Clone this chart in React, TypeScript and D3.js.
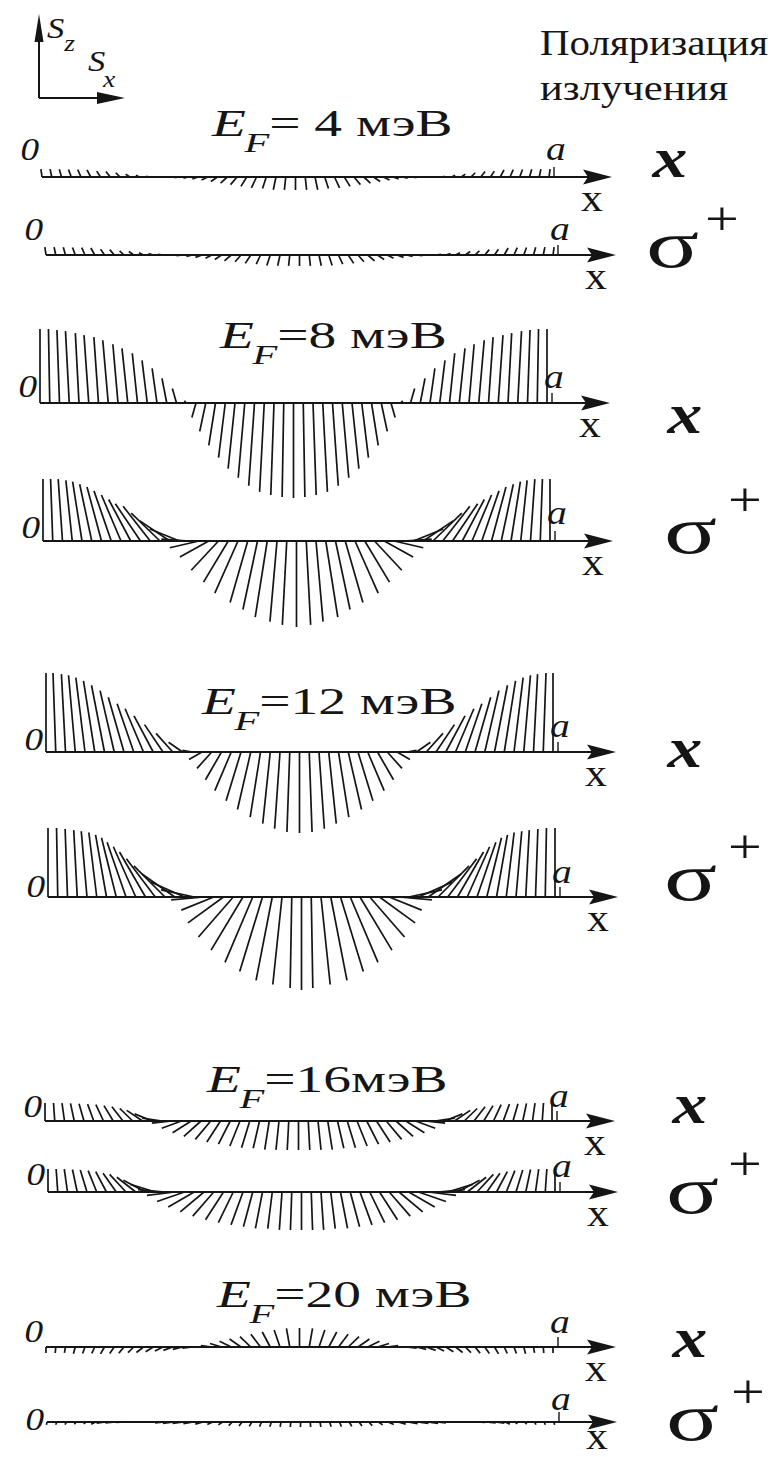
import React from "react";
import * as d3 from "d3";

const WIDTH = 771;
const HEIGHT = 1457;
const INK = "#151515";
const SERIF = "Liberation Serif";

// Spin vectors sampled at equal steps across the well, from x = 0 to x = a.
// Angle: degrees measured from +S_z, positive values lean toward -S_x.
// Length: spin magnitude, 100 = full length unit.
const ef4xAngle = [8, 12, 16, 20, 24, 28, 33, 38, 45, 55, 65, 75, 85, 92, 98, 104, 110, 116, 124, 132, 140, 148, 155, 162, 168, 174, 180, -174, -168, -162, -155, -148, -140, -132, -124, -116, -110, -104, -98, -92, -85, -75, -65, -55, -45, -38, -33, -28, -24, -20, -16, -12, -8];
const ef4xLength = [8, 8, 8, 8, 8, 8, 7, 7, 6, 5, 4, 3, 3, 3, 4, 5, 6, 7, 8, 9, 10, 11, 12, 12, 13, 13, 13, 13, 13, 12, 12, 11, 10, 9, 8, 7, 6, 5, 4, 3, 3, 3, 4, 5, 6, 7, 7, 8, 8, 8, 8, 8, 8];

const ef4sAngle = [8, 12, 16, 20, 24, 29, 34, 40, 47, 55, 64, 73, 82, 90, 97, 104, 110, 117, 124, 131, 139, 147, 155, 162, 168, 174, 180, -174, -168, -162, -155, -147, -139, -131, -124, -117, -110, -104, -97, -90, -82, -73, -64, -55, -47, -40, -34, -29, -24, -20, -16, -12, -8];
const ef4sLength = [8, 8, 8, 8, 8, 8, 7, 7, 6, 6, 5, 5, 5, 5, 6, 6, 7, 7, 8, 9, 9, 10, 10, 11, 11, 11, 11, 11, 11, 11, 10, 10, 9, 9, 8, 7, 7, 6, 6, 5, 5, 5, 5, 6, 6, 7, 7, 8, 8, 8, 8, 8, 8];

const ef8xAngle = [0, 1, 2, 3, 3, 4, 4, 5, 5, 6, 6, 7, 8, 11, 16, 40, 164, 168, 171, 173, 174, 175, 176, 177, 178, 179, 180, -179, -178, -177, -176, -175, -174, -173, -171, -168, -164, -40, -16, -11, -8, -7, -6, -6, -5, -5, -4, -4, -3, -3, -2, -1, 0];
const ef8xLength = [74, 74, 73, 72, 70, 68, 66, 63, 59, 55, 50, 43, 35, 25, 15, 3, 15, 29, 43, 55, 66, 75, 83, 89, 92, 94, 95, 94, 92, 89, 83, 75, 66, 55, 43, 29, 15, 3, 15, 25, 35, 43, 50, 55, 59, 63, 66, 68, 70, 72, 73, 74, 74];

const ef8sAngle = [0, 2, 4, 6, 9, 12, 15, 19, 23, 28, 34, 38, 46, 56, 68, 86, 103, 119, 137, 149, 156, 164, 168, 171, 175, 177, 180, -177, -175, -171, -168, -164, -156, -149, -137, -119, -103, -86, -68, -56, -46, -38, -34, -28, -23, -19, -15, -12, -9, -6, -4, -2, 0];
const ef8sLength = [62, 62, 62, 61, 60, 58, 56, 53, 50, 47, 45, 44, 40, 36, 32, 28, 30, 33, 40, 48, 57, 64, 70, 77, 81, 84, 86, 84, 81, 77, 70, 64, 57, 48, 40, 33, 30, 28, 32, 36, 40, 44, 45, 47, 50, 53, 56, 58, 60, 61, 62, 62, 62];

const ef12xAngle = [0, 2, 3, 5, 7, 9, 11, 13, 16, 19, 23, 28, 34, 42, 55, 80, 120, 138, 150, 157, 163, 167, 171, 174, 176, 178, 180, -178, -176, -174, -171, -167, -163, -157, -150, -138, -120, -80, -55, -42, -34, -28, -23, -19, -16, -13, -11, -9, -7, -5, -3, -2, 0];
const ef12xLength = [79, 79, 78, 77, 75, 72, 68, 63, 57, 51, 47, 41, 33, 25, 17, 10, 15, 22, 32, 42, 51, 59, 66, 72, 77, 80, 81, 80, 77, 72, 66, 59, 51, 42, 32, 22, 15, 10, 17, 25, 33, 41, 47, 51, 57, 63, 68, 72, 75, 77, 78, 79, 79];

const ef12sAngle = [0, 1, 2, 3, 5, 7, 10, 14, 19, 24, 30, 37, 45, 55, 66, 78, 95, 112, 126, 139, 149, 157, 163, 169, 174, 179, 180, -179, -174, -169, -163, -157, -149, -139, -126, -112, -95, -78, -66, -55, -45, -37, -30, -24, -19, -14, -10, -7, -5, -3, -2, -1, 0];
const ef12sLength = [69, 69, 68, 67, 66, 65, 63, 61, 58, 55, 52, 48, 44, 40, 37, 34, 33, 35, 44, 53, 62, 71, 78, 85, 88, 91, 93, 91, 88, 85, 78, 71, 62, 53, 44, 35, 33, 34, 37, 40, 44, 48, 52, 55, 58, 61, 63, 65, 66, 67, 68, 69, 69];

const ef16xAngle = [0, 4, 8, 12, 16, 20, 25, 31, 38, 46, 56, 68, 82, 96, 110, 122, 132, 140, 147, 153, 158, 163, 167, 171, 174, 177, 180, -177, -174, -171, -167, -163, -158, -153, -147, -140, -132, -122, -110, -96, -82, -68, -56, -46, -38, -31, -25, -20, -16, -12, -8, -4, 0];
const ef16xLength = [18, 18, 18, 18, 18, 18, 18, 18, 18, 18, 19, 19, 20, 20, 21, 22, 23, 24, 25, 26, 27, 28, 28, 29, 29, 29, 29, 29, 29, 29, 28, 28, 27, 26, 25, 24, 23, 22, 21, 20, 20, 19, 19, 18, 18, 18, 18, 18, 18, 18, 18, 18, 18];

const ef16sAngle = [0, 4, 8, 12, 17, 22, 28, 35, 43, 52, 62, 73, 85, 97, 109, 120, 130, 139, 147, 154, 160, 165, 169, 173, 176, 178, 180, -178, -176, -173, -169, -165, -160, -154, -147, -139, -130, -120, -109, -97, -85, -73, -62, -52, -43, -35, -28, -22, -17, -12, -8, -4, 0];
const ef16sLength = [23, 23, 23, 23, 23, 23, 23, 23, 24, 24, 25, 26, 27, 28, 29, 30, 31, 32, 33, 34, 35, 36, 37, 37, 38, 38, 38, 38, 38, 37, 37, 36, 35, 34, 33, 32, 31, 30, 29, 28, 27, 26, 25, 24, 24, 23, 23, 23, 23, 23, 23, 23, 23];

const ef20xAngle = [180, 175, 170, 165, 160, 155, 150, 145, 140, 134, 128, 122, 116, 110, 104, 97, 90, 82, 73, 64, 55, 46, 37, 28, 19, 10, 0, -10, -19, -28, -37, -46, -55, -64, -73, -82, -90, -97, -104, -110, -116, -122, -128, -134, -140, -145, -150, -155, -160, -165, -170, -175, -180];
const ef20xLength = [6, 6, 6, 7, 7, 7, 8, 8, 8, 8, 9, 9, 9, 10, 10, 10, 10, 11, 12, 13, 14, 15, 16, 17, 18, 19, 19, 19, 18, 17, 16, 15, 14, 13, 12, 11, 10, 10, 10, 10, 9, 9, 9, 8, 8, 8, 8, 7, 7, 7, 6, 6, 6];

const ef20sAngle = [170, 160, 150, 140, 130, 115, 97, 95, 93, 88, 90, 92, 96, 97, 98, 100, 105, 115, 125, 135, 143, 150, 157, 164, 170, 175, 180, -175, -170, -164, -157, -150, -143, -135, -125, -115, -105, -100, -98, -97, -96, -92, -90, -88, -93, -95, -97, -115, -130, -140, -150, -160, -170];
const ef20sLength = [3, 3, 3, 3, 3, 5, 9, 10, 9, 2, 1, 1, 9, 11, 11, 10, 8, 6, 5, 5, 5, 5, 5, 5, 5, 5, 5, 5, 5, 5, 5, 5, 5, 5, 5, 6, 8, 10, 11, 11, 9, 1, 1, 2, 9, 10, 9, 5, 3, 3, 3, 3, 3];

// Title of each Fermi-energy block (meV)
const fermiTitles = ["= 4 мэВ", "=8 мэВ", "=12 мэВ", "=16мэВ", "=20 мэВ"];

type Row = {
  pol: "x" | "s";
  angle: number[];
  length: number[];
  axisY: number;
  x0: number;
  zeroY: number;
  aY: number;
  tagX: number;
  tagY: number;
  plusX?: number;
  plusY?: number;
  labelDy?: number;
};

const rows: Row[] = [
  { pol: "x", angle: ef4xAngle, length: ef4xLength, axisY: 177, x0: 42, zeroY: 160, aY: 160, tagX: 670, tagY: 177 },
  { pol: "s", angle: ef4sAngle, length: ef4sLength, axisY: 255, x0: 46, zeroY: 240, aY: 240, tagX: 646, tagY: 267, plusX: 722, plusY: 220 },
  { pol: "x", angle: ef8xAngle, length: ef8xLength, axisY: 403, x0: 40, zeroY: 397, aY: 388, tagX: 685, tagY: 433 },
  { pol: "s", angle: ef8sAngle, length: ef8sLength, axisY: 541, x0: 43, zeroY: 538, aY: 524, tagX: 664, tagY: 553, plusX: 745, plusY: 501 },
  { pol: "x", angle: ef12xAngle, length: ef12xLength, axisY: 752, x0: 46, zeroY: 750, aY: 737, tagX: 685, tagY: 767 },
  { pol: "s", angle: ef12sAngle, length: ef12sLength, axisY: 897, x0: 48, zeroY: 897, aY: 883, tagX: 664, tagY: 900, plusX: 745, plusY: 848 },
  { pol: "x", angle: ef16xAngle, length: ef16xLength, axisY: 1121, x0: 45, zeroY: 1117, aY: 1107, tagX: 690, tagY: 1123 },
  { pol: "s", angle: ef16sAngle, length: ef16sLength, axisY: 1192, x0: 48, zeroY: 1185, aY: 1177, tagX: 666, tagY: 1213, plusX: 745, plusY: 1165 },
  { pol: "x", angle: ef20xAngle, length: ef20xLength, axisY: 1347, x0: 46, zeroY: 1342, aY: 1333, tagX: 690, tagY: 1357 },
  { pol: "s", angle: ef20sAngle, length: ef20sLength, axisY: 1422, x0: 47, zeroY: 1430, aY: 1410, tagX: 666, tagY: 1440, plusX: 748, plusY: 1393, labelDy: 27 },
];

const titleLayout = [
  { x: 212, y: 136 },
  { x: 220, y: 348 },
  { x: 202, y: 714 },
  { x: 207, y: 1092 },
  { x: 217, y: 1307 },
];

const WELL_WIDTH = 507; // pixels from x = 0 to x = a
const ARROW_GAP = 63;

// spin magnitude → pixels
const spinScale = d3.scaleLinear().domain([0, 100]).range([0, 100]);

function SpinRow({ row }: { row: Row }) {
  const n = row.angle.length;
  const pos = d3.scaleLinear().domain([0, n - 1]).range([row.x0, row.x0 + WELL_WIDTH]);
  const xa = pos(n - 1);
  const tip = xa + ARROW_GAP;
  const y = row.axisY;
  const vectors = d3.range(n).map((i) => {
    const phi = (row.angle[i] * Math.PI) / 180;
    const r = spinScale(row.length[i]);
    const bx = pos(i);
    return { x1: bx, y1: y, x2: bx - r * Math.sin(phi), y2: y - r * Math.cos(phi) };
  });
  return (
    <g>
      {vectors.map((v, i) => (
        <line key={i} x1={v.x1} y1={v.y1} x2={v.x2} y2={v.y2} stroke={INK} strokeWidth={1.7} />
      ))}
      <line x1={row.x0} y1={y} x2={tip - 20} y2={y} stroke={INK} strokeWidth={2.2} />
      <polygon
        points={`${tip},${y} ${tip - 29},${y - 7.5} ${tip - 24},${y} ${tip - 29},${y + 7.5}`}
        fill={INK}
      />
      <line x1={xa + 5} y1={y} x2={xa + 5} y2={y - 10} stroke={INK} strokeWidth={1.4} />
      <g transform={`translate(${row.x0 - 3},${row.zeroY}) scale(1.2,1)`}>
        <text textAnchor="end" fontFamily={SERIF} fontStyle="italic" fontSize={31} fill={INK}>
          0
        </text>
      </g>
      <g transform={`translate(${xa + 7},${row.aY}) scale(1.2,1)`}>
        <text textAnchor="middle" fontFamily={SERIF} fontStyle="italic" fontSize={33} fill={INK}>
          a
        </text>
      </g>
      <g transform={`translate(${tip - 20},${y + (row.labelDy ?? 34)}) scale(1.15,1)`}>
        <text textAnchor="middle" fontFamily={SERIF} fontSize={38} fill={INK}>
          x
        </text>
      </g>
      {row.pol === "x" ? (
        <g transform={`translate(${row.tagX},${row.tagY}) scale(1.2,1)`}>
          <text textAnchor="middle" fontFamily={SERIF} fontStyle="italic" fontWeight="bold" fontSize={58} fill={INK}>
            x
          </text>
        </g>
      ) : (
        <g>
          <g transform={`translate(${row.tagX},${row.tagY}) scale(1.45,1)`}>
            <text fontFamily={SERIF} fontSize={68} fill={INK}>
              σ
            </text>
          </g>
          <g transform={`translate(${row.plusX},${(row.plusY ?? 0) + 15}) scale(1.25,1)`}>
            <text textAnchor="middle" fontFamily={SERIF} fontSize={48} fill={INK}>
              +
            </text>
          </g>
        </g>
      )}
    </g>
  );
}

function Title({ x, y, value }: { x: number; y: number; value: string }) {
  return (
    <g transform={`translate(${x},${y}) scale(1.5,1)`}>
      <text fontFamily={SERIF} fontSize={37} fill={INK}>
        <tspan fontStyle="italic">E</tspan>
        <tspan fontStyle="italic" fontSize={27} dy={16} dx={-1}>
          F
        </tspan>
        <tspan dy={-16} dx={0}>
          {value}
        </tspan>
      </text>
    </g>
  );
}

function Frame() {
  // coordinate frame S_z / S_x in the upper-left corner
  const ox = 39;
  const oy = 98;
  return (
    <g>
      <line x1={ox} y1={oy} x2={ox} y2={22} stroke={INK} strokeWidth={2} />
      <polygon points={`${ox},14 ${ox - 4.5},42 ${ox + 4.5},42`} fill={INK} />
      <line x1={ox} y1={oy} x2={100} y2={oy} stroke={INK} strokeWidth={2} />
      <polygon points={`${ox + 86},${oy} ${ox + 58},${oy - 6} ${ox + 58},${oy + 6}`} fill={INK} />
      <g transform="translate(47,38) scale(1.15,1)">
        <text fontFamily={SERIF} fontStyle="italic" fontSize={30} fill={INK}>
          S
          <tspan fontSize={24} dy={13} dx={0}>
            z
          </tspan>
        </text>
      </g>
      <g transform="translate(88,71) scale(1.15,1)">
        <text fontFamily={SERIF} fontStyle="italic" fontSize={30} fill={INK}>
          S
          <tspan fontSize={24} dy={16} dx={-2}>
            x
          </tspan>
        </text>
      </g>
    </g>
  );
}

export default function App() {
  return (
    <div style={{ position: "absolute", left: 0, top: 0, background: "#fff" }}>
      <svg width={WIDTH} height={HEIGHT} viewBox={`0 0 ${WIDTH} ${HEIGHT}`} style={{ display: "block", background: "#fff" }}>
        <rect width={WIDTH} height={HEIGHT} fill="#fff" />
        <Frame />
        <text
          x={540}
          y={55}
          fontFamily={SERIF}
          fontSize={36}
          fill={INK}
          textLength={228}
          lengthAdjust="spacingAndGlyphs"
        >
          Поляризация
        </text>
        <text
          x={540}
          y={100}
          fontFamily={SERIF}
          fontSize={36}
          fill={INK}
          textLength={188}
          lengthAdjust="spacingAndGlyphs"
        >
          излучения
        </text>
        {fermiTitles.map((t, i) => (
          <Title key={t} x={titleLayout[i].x} y={titleLayout[i].y} value={t} />
        ))}
        {rows.map((r, i) => (
          <SpinRow key={i} row={r} />
        ))}
      </svg>
    </div>
  );
}
